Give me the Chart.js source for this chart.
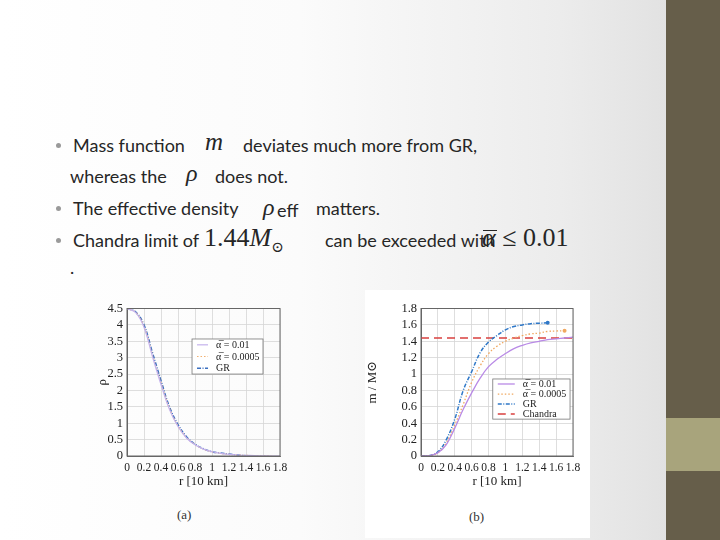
<!DOCTYPE html>
<html>
<head>
<meta charset="utf-8">
<script src="https://cdn.jsdelivr.net/npm/chart.js@4"></script>
<style>
  html, body { margin: 0; padding: 0; }
  body {
    width: 720px; height: 540px; position: relative; overflow: hidden;
    background: linear-gradient(to right, #ffffff 0px, #fbfbfb 300px, #ececec 560px, #e2e2e2 666px);
    font-family: Lato, "Open Sans", sans-serif; color: #262626;
  }
  .side { position: absolute; left: 666px; top: 0; width: 54px; height: 540px; background: #665e4a; }
  .band { position: absolute; left: 666px; top: 418px; width: 54px; height: 53px; background: #a8a47c; }
  .t { position: absolute; font-size: 18px; white-space: nowrap; line-height: 1; }
  .m { position: absolute; font-family: "Liberation Serif", "DejaVu Serif", serif; font-size: 22px; white-space: nowrap; line-height: 1; }
  .dot { position: absolute; width: 5px; height: 5px; border-radius: 50%; background: #9a9a9a; }
  .fig { position: absolute; background: #fff; }
  .cap { position: absolute; font-family: "Liberation Serif", serif; font-size: 13px; color: #333; }
  .box { position: absolute; }
  .bar { position: absolute; height: 1px; background: #262626; }
</style>
</head>
<body>
<div class="side"></div>
<div class="band"></div>

<div class="dot" style="left:56px;top:143px"></div>
<div class="t" style="left:73px;top:136px">Mass function</div>
<div class="m" style="left:205px;top:129px;font-style:italic;font-size:25px">m</div>
<div class="t" style="left:243px;top:136px">deviates much more from GR,</div>
<div class="t" style="left:70px;top:167px">whereas the</div>
<div class="m" style="left:186px;top:161px;font-style:italic;font-size:24px">ρ</div>
<div class="t" style="left:215px;top:167px">does not.</div>
<div class="dot" style="left:56px;top:206px"></div>
<div class="t" style="left:73px;top:199px">The effective density</div>
<div class="m" style="left:263px;top:195px;font-style:italic;font-size:24px">ρ</div>
<div class="t" style="left:277px;top:201px">eff</div>
<div class="t" style="left:316px;top:199px">matters.</div>
<div class="dot" style="left:56px;top:238px"></div>
<div class="t" style="left:73px;top:231px">Chandra limit of</div>
<div class="m" style="left:204px;top:225px;font-size:26px">1.44<i>M</i><sub style="font-size:15px">⊙</sub></div>
<div class="t" style="left:325px;top:231px">can be exceeded with</div>
<div class="m" style="left:482px;top:225px;font-size:26px"><i>α</i> ≤ 0.01</div>
<div class="bar" style="left:483px;top:230px;width:14px"></div>
<div class="t" style="left:70px;top:258px">.</div>

<div class="fig" style="left:365px;top:290px;width:225px;height:248px"></div>

<div class="box" style="left:95px;top:297px;width:210px;height:200px"><canvas id="rhoChart"></canvas></div>
<div class="box" style="left:365px;top:297px;width:225px;height:200px"><canvas id="massChart"></canvas></div>
<div class="cap" style="left:177px;top:507px">(a)</div>
<div class="cap" style="left:469px;top:509px">(b)</div>

<script>
// radius r [10 km]
const rGrid = [0, 0.1, 0.2, 0.3, 0.4, 0.5, 0.6, 0.7, 0.8, 0.9, 1.0, 1.1, 1.2, 1.3, 1.4, 1.5, 1.6, 1.7, 1.8];

// density rho (panel a)
const rhoAlpha001 = [4.5, 4.38, 3.93, 3.03, 2.18, 1.42, 0.9, 0.55, 0.34, 0.21, 0.13, 0.08, 0.05, 0.03, 0.02, 0.01, 0.005, 0, 0];
const rhoAlpha0005 = [4.5, 4.39, 3.95, 3.07, 2.22, 1.45, 0.92, 0.56, 0.35, 0.21, 0.13, 0.08, 0.05, 0.03, 0.02, 0.01, 0.005, 0];
const rhoGR = [4.5, 4.4, 4.0, 3.15, 2.3, 1.5, 0.96, 0.59, 0.36, 0.22, 0.13, 0.09, 0.06, 0.03, 0.01, 0];

// mass m / M_sun (panel b)
const massAlpha001 = [0, 0.004, 0.04, 0.14, 0.34, 0.57, 0.77, 0.95, 1.09, 1.18, 1.25, 1.31, 1.35, 1.38, 1.4, 1.42, 1.43, 1.44, 1.45];
const massAlpha0005 = [0, 0.004, 0.04, 0.16, 0.38, 0.63, 0.9, 1.1, 1.25, 1.34, 1.4, 1.44, 1.47, 1.49, 1.5, 1.52, 1.525, 1.53];
const massGR = [0, 0.005, 0.05, 0.2, 0.45, 0.8, 1.03, 1.26, 1.39, 1.47, 1.54, 1.58, 1.6, 1.615, 1.62, 1.625];
const chandraLimit = 1.44;

const pts = arr => arr.map((v, i) => ({ x: rGrid[i], y: v }));
const serif = '"Liberation Serif", "DejaVu Serif", serif';

// legend drawn inside the plot area (box corners in data units)
const innerLegend = {
  id: 'innerLegend',
  afterDraw(chart, args, opts) {
    const { ctx, scales: { x, y } } = chart;
    const x0 = x.getPixelForValue(opts.box[0]), x1 = x.getPixelForValue(opts.box[1]);
    const y0 = y.getPixelForValue(opts.box[2]), y1 = y.getPixelForValue(opts.box[3]);
    ctx.save();
    ctx.fillStyle = '#fff';
    ctx.fillRect(x0, y0, x1 - x0, y1 - y0);
    ctx.strokeStyle = '#777';
    ctx.lineWidth = 0.8;
    ctx.strokeRect(x0, y0, x1 - x0, y1 - y0);
    const items = chart.data.datasets;
    const rowH = (y1 - y0) / items.length;
    ctx.font = opts.fontSize + 'px ' + serif;
    ctx.textBaseline = 'middle';
    items.forEach((d, i) => {
      const cy = y0 + rowH * (i + 0.5);
      ctx.strokeStyle = d.borderColor;
      ctx.lineWidth = d.borderWidth;
      ctx.setLineDash(d.borderDash || []);
      ctx.beginPath();
      ctx.moveTo(x0 + 5, cy);
      ctx.lineTo(x0 + opts.sample, cy);
      ctx.stroke();
      ctx.setLineDash([]);
      ctx.fillStyle = '#222';
      ctx.fillText(d.label, x0 + opts.sample + 8, cy + 0.5);
    });
    ctx.restore();
  }
};

const frame = {
  id: 'frame',
  afterDatasetsDraw(chart) {
    const { ctx, chartArea: a } = chart;
    ctx.save();
    ctx.strokeStyle = '#666';
    ctx.lineWidth = 1;
    ctx.strokeRect(a.left, a.top, a.right - a.left, a.bottom - a.top);
    ctx.restore();
  }
};

function axes(yMin, yMax, yStep, yTitle, yWidth) {
  return {
    x: {
      type: 'linear', min: 0, max: 1.8,
      grid: { color: '#d6d6d6', lineWidth: 0.8, drawTicks: false },
      border: { color: '#666' },
      ticks: {
        stepSize: 0.2, autoSkip: false, maxRotation: 0, padding: 5,
        color: '#222', font: { family: serif, size: 11.5 },
        callback: v => String(Number(v.toFixed(1)))
      },
      title: { display: true, text: 'r [10 km]', color: '#222', font: { family: serif, size: 13 }, padding: { top: 1, bottom: 0 } },
      afterFit: s => { s.height = 33; }
    },
    y: {
      type: 'linear', min: yMin, max: yMax,
      grid: { color: '#d6d6d6', lineWidth: 0.8, drawTicks: false },
      border: { color: '#666' },
      ticks: {
        stepSize: yStep, autoSkip: false, padding: 4,
        color: '#222', font: { family: serif, size: 12.5 },
        callback: v => String(Number(v.toFixed(1)))
      },
      title: { display: true, text: yTitle, color: '#222', font: { family: serif, size: 13 }, padding: 0 },
      afterFit: s => { s.width = yWidth; }
    }
  };
}

const endMarker = n => (c => c.dataIndex === n - 1 ? 2 : 0);

new Chart(document.getElementById('rhoChart'), {
  type: 'scatter',
  data: {
    datasets: [
      { label: 'α̅ = 0.01', data: pts(rhoAlpha001), showLine: true, borderColor: '#c4b2ec', borderWidth: 1.2, pointRadius: 0, tension: 0.4 },
      { label: 'α̅ = 0.0005', data: pts(rhoAlpha0005), showLine: true, borderColor: '#f2b070', borderWidth: 1.2, borderDash: [1.5, 2], pointRadius: 0, tension: 0.4 },
      { label: 'GR', data: pts(rhoGR), showLine: true, borderColor: '#3a6fc0', borderWidth: 1.5, borderDash: [4, 1.5, 1, 1.5], pointRadius: 0, tension: 0.4 }
    ]
  },
  options: {
    responsive: true, maintainAspectRatio: false, animation: false,
    layout: { padding: { top: 8, right: 25, left: 0, bottom: 8 } },
    scales: axes(0, 4.5, 0.5, 'ρ', 32),
    plugins: {
      legend: { display: false }, tooltip: { enabled: false },
      innerLegend: { box: [0.765, 1.6, 3.57, 2.5], fontSize: 10, sample: 16 }
    }
  },
  plugins: [frame, innerLegend]
});

new Chart(document.getElementById('massChart'), {
  type: 'scatter',
  data: {
    datasets: [
      { label: 'α̅ = 0.01', data: pts(massAlpha001), showLine: true, borderColor: '#b98ae6', borderWidth: 1.3, pointRadius: 0, tension: 0.4 },
      { label: 'α̅ = 0.0005', data: pts(massAlpha0005), showLine: true, borderColor: '#f0a860', borderWidth: 1.3, borderDash: [1.5, 2], pointRadius: endMarker(massAlpha0005.length), pointBackgroundColor: '#f0a860', pointBorderWidth: 0, tension: 0.4 },
      { label: 'GR', data: pts(massGR), showLine: true, borderColor: '#2f78c8', borderWidth: 1.5, borderDash: [4, 1.5, 1, 1.5], pointRadius: endMarker(massGR.length), pointBackgroundColor: '#2f78c8', pointBorderWidth: 0, tension: 0.4 },
      { label: 'Chandra', data: [{ x: 0, y: chandraLimit }, { x: 1.8, y: chandraLimit }], showLine: true, borderColor: '#d9403f', borderWidth: 1.5, borderDash: [8, 5], pointRadius: 0 }
    ]
  },
  options: {
    responsive: true, maintainAspectRatio: false, animation: false,
    layout: { padding: { top: 8, right: 17, left: 0, bottom: 8 } },
    scales: axes(0, 1.8, 0.2, 'm / M⊙', 56),
    plugins: {
      legend: { display: false }, tooltip: { enabled: false },
      innerLegend: { box: [0.85, 1.765, 0.94, 0.45], fontSize: 10, sample: 22 }
    }
  },
  plugins: [frame, innerLegend]
});
</script>
</body>
</html>
